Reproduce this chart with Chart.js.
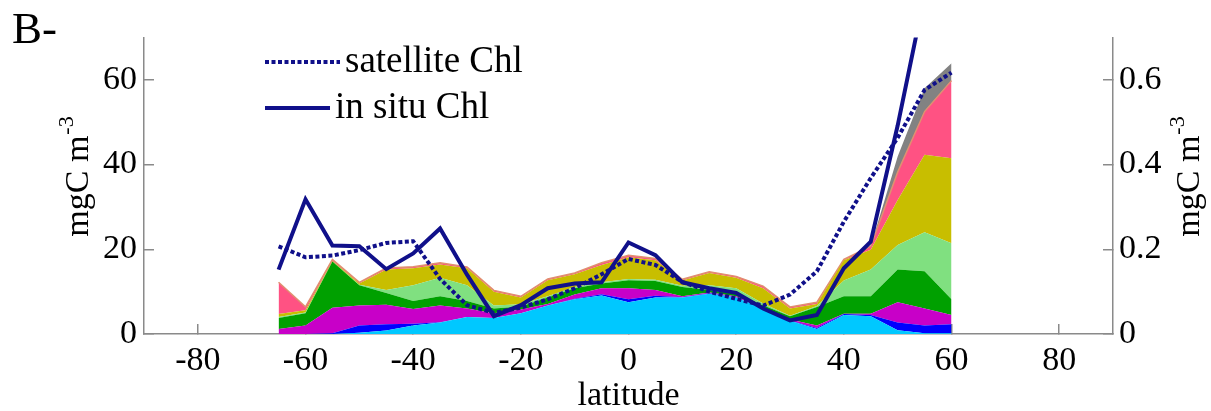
<!doctype html>
<html>

<head>
	<title>Latitude profile B</title>
	<script src="https://cdn.jsdelivr.net/npm/chart.js@4.4.0/dist/chart.umd.min.js"></script>
	<style>
		html, body {
			margin: 0;
			padding: 0;
			background: #fff;
		}
	</style>
</head>

<body>
	<canvas id="chart-area" width="1211" height="411"></canvas>
	<script>
		// latitude bins (deg)
		var latitudes = [-65, -60, -55, -50, -45, -40, -35, -30, -25, -20, -15, -10, -5, 0, 5, 10, 15, 20, 25, 30, 35, 40, 45, 50, 55, 60];

		// stacked groups, mgC m-3 (bottom to top)
		var cyanGroup = [0, 0, 0, 0.3, 0.8, 2.0, 2.7, 4.0, 3.8, 4.9, 6.7, 8.2, 9.1, 7.5, 8.6, 8.6, 9.5, 8.6, 6.0, 3.1, 1.2, 4.5, 4.2, 0.9, 0.2, 0.2];
		var blueGroup = [0, 0, 0.2, 1.7, 1.5, 0.4, 0.1, 0, 0, 0, 0, 0.1, 0.3, 0.7, 0.4, 0.1, 0.1, 0.1, 0.1, 0.1, 0.2, 0.2, 0.3, 1.8, 1.8, 2.1];
		var magentaGroup = [1.2, 2.0, 6.0, 4.7, 4.6, 3.5, 3.9, 2.0, 1.1, 0.9, 0.4, 1.0, 1.4, 2.6, 1.4, 0.2, 0.2, 0.2, 0.2, 0.2, 0.6, 0.1, 0.3, 4.8, 4.0, 2.2];
		var greenGroup = [2.6, 2.9, 10.9, 4.8, 2.8, 1.9, 2.2, 1.8, 1.1, 0.7, 1.5, 1.5, 1.1, 1.9, 2.1, 2.2, 0.6, 0.6, 0.5, 0.8, 4.4, 4.1, 4.1, 7.7, 8.8, 3.7];
		var lightGreenGroup = [0.2, 0.2, 0, 0.1, 0.7, 3.7, 4.4, 3.7, 0.7, 0.5, 0.3, 0.3, 0.3, 0.3, 0.3, 0.3, 1.1, 1.3, 0.4, 0.1, 0.2, 3.7, 6.3, 5.8, 9.2, 13.2];
		var oliveGroup = [0.7, 0.5, 0.1, 0.3, 4.8, 4.0, 3.1, 4.0, 3.3, 1.6, 3.8, 3.0, 4.1, 5.1, 4.6, 1.2, 2.9, 2.5, 3.6, 1.7, 0.5, 4.8, 4.7, 10.6, 18.3, 20.1];
		var pinkGroup = [7.5, 0.8, 0.4, 0.3, 0.4, 0.4, 0.4, 0.3, 0.3, 0.3, 0.3, 0.3, 0.5, 0.5, 0.4, 0.3, 0.3, 0.3, 0.5, 0.4, 0.4, 0.2, 0.8, 6.6, 10.2, 18.3];
		var grayGroup = [0, 0, 0, 0, 0, 0, 0, 0, 0, 0, 0, 0, 0, 0, 0, 0, 0, 0, 0, 0, 0, 0, 0, 3.7, 5.5, 4.1];

		// chlorophyll, right axis
		var satelliteChl = [0.207, 0.181, 0.185, 0.198, 0.215, 0.219, 0.13, 0.068, 0.05, 0.062, 0.082, 0.108, 0.141, 0.177, 0.163, 0.123, 0.10, 0.083, 0.067, 0.093, 0.148, 0.265, 0.368, 0.463, 0.576, 0.617];
		var inSituChl = [0.152, 0.318, 0.209, 0.207, 0.153, 0.19, 0.249, 0.14, 0.042, 0.068, 0.108, 0.119, 0.122, 0.216, 0.186, 0.122, 0.108, 0.097, 0.06, 0.032, 0.045, 0.155, 0.218, 0.492, 0.80, null];

		var xTicks = [-80, -60, -40, -20, 0, 20, 40, 60, 80];
		var leftTicks = [0, 20, 40, 60];
		var rightTicks = [0, 0.2, 0.4, 0.6];

		var navy = '#10108a';
		var serif = '"Liberation Serif", "Times New Roman", serif';
		var axisGray = '#8a8a8a';

		var toPoints = function (values) {
			return latitudes.map(function (lat, i) {
				return { x: lat, y: values[i] };
			});
		};

		var layer = function (label, values, color, fill) {
			return {
				label: label,
				data: toPoints(values),
				yAxisID: 'y',
				backgroundColor: color,
				borderColor: color,
				borderWidth: 0,
				pointRadius: 0,
				fill: fill,
				tension: 0
			};
		};

		var pinkLayer = layer('pink', pinkGroup, '#ff5283', '-1');
		pinkLayer.borderColor = '#e09070';
		pinkLayer.borderWidth = 1.5;

		var fixTicks = function (list) {
			return function (scale) {
				scale.ticks = list.map(function (v) { return { value: v }; });
			};
		};

		var tickFont = { family: serif, size: 34 };

		// axis titles, panel letter and legend
		var drawUnit = function (ctx, x, cy) {
			ctx.save();
			ctx.translate(x, cy);
			ctx.rotate(-Math.PI / 2);
			ctx.font = '34px ' + serif;
			var w1 = ctx.measureText('mgC m').width;
			ctx.font = '22px ' + serif;
			var w2 = ctx.measureText('-3').width;
			var start = -(w1 + w2) / 2;
			ctx.textAlign = 'left';
			ctx.textBaseline = 'alphabetic';
			ctx.font = '34px ' + serif;
			ctx.fillText('mgC m', start, 0);
			ctx.font = '22px ' + serif;
			ctx.fillText('-3', start + w1 + 1, -15);
			ctx.restore();
		};

		var annotations = {
			id: 'annotations',
			afterDraw: function (chart) {
				var ctx = chart.ctx;
				ctx.save();
				ctx.fillStyle = '#000';
				ctx.textBaseline = 'alphabetic';
				ctx.font = '45px ' + serif;
				ctx.fillText('B-', 12, 43);

				ctx.font = '34px ' + serif;
				ctx.textAlign = 'center';
				ctx.fillText('latitude', chart.scales.x.getPixelForValue(0), 405);

				drawUnit(ctx, 88, 177);
				drawUnit(ctx, 1199, 177);

				// legend
				ctx.strokeStyle = navy;
				ctx.lineWidth = 4;
				ctx.setLineDash([4, 2.5]);
				ctx.beginPath();
				ctx.moveTo(265, 62);
				ctx.lineTo(340, 62);
				ctx.stroke();
				ctx.setLineDash([]);
				ctx.beginPath();
				ctx.moveTo(265, 108);
				ctx.lineTo(330, 108);
				ctx.stroke();

				ctx.textAlign = 'left';
				ctx.textBaseline = 'middle';
				ctx.font = '37px ' + serif;
				ctx.fillText('satellite Chl', 345, 62);
				ctx.fillText('in situ Chl', 335, 108);
				ctx.restore();
			}
		};

		var config = {
			type: 'line',
			data: {
				datasets: [{
					label: 'satellite Chl',
					data: toPoints(satelliteChl),
					yAxisID: 'y2',
					borderColor: navy,
					borderWidth: 4,
					borderDash: [4, 2.5],
					pointRadius: 0,
					fill: false,
					tension: 0
				}, {
					label: 'in situ Chl',
					data: toPoints(inSituChl),
					yAxisID: 'y2',
					borderColor: navy,
					borderWidth: 4,
					pointRadius: 0,
					fill: false,
					tension: 0
				},
				layer('cyan', cyanGroup, '#00c8ff', 'origin'),
				layer('blue', blueGroup, '#0000ff', '-1'),
				layer('magenta', magentaGroup, '#c800c8', '-1'),
				layer('green', greenGroup, '#00a000', '-1'),
				layer('light green', lightGreenGroup, '#80e080', '-1'),
				layer('olive', oliveGroup, '#c8be00', '-1'),
				pinkLayer,
				layer('gray', grayGroup, '#828282', '-1')
				]
			},
			options: {
				responsive: false,
				animation: false,
				devicePixelRatio: 1,
				layout: { padding: { top: 16, left: 0, right: 0, bottom: 0 } },
				plugins: {
					legend: { display: false },
					tooltip: { enabled: false },
					title: { display: false }
				},
				scales: {
					x: {
						type: 'linear',
						min: -90,
						max: 90,
						afterBuildTicks: fixTicks(xTicks),
						afterFit: function (scale) { scale.height = 77; },
						ticks: { font: tickFont, color: '#000', padding: 17, maxRotation: 0, autoSkip: false },
						grid: { drawOnChartArea: false, tickLength: -10, color: axisGray, lineWidth: 1.5 },
						border: { display: true, color: axisGray, width: 1.5 }
					},
					y: {
						position: 'left',
						stacked: true,
						min: 0,
						max: 70,
						afterBuildTicks: fixTicks(leftTicks),
						afterFit: function (scale) { scale.width = 144; },
						ticks: { font: tickFont, color: '#000', padding: 17 },
						grid: { drawOnChartArea: false, tickLength: -10, color: axisGray, lineWidth: 1.5 },
						border: { display: true, color: axisGray, width: 1.5 }
					},
					y2: {
						position: 'right',
						stacked: false,
						min: 0,
						max: 0.7,
						afterBuildTicks: fixTicks(rightTicks),
						afterFit: function (scale) { scale.width = 98; },
						ticks: {
							font: tickFont, color: '#000', padding: 16,
							callback: function (v) { return v === 0 ? '0' : v.toFixed(1); }
						},
						grid: { drawOnChartArea: false, tickLength: -10, color: axisGray, lineWidth: 1.5 },
						border: { display: true, color: axisGray, width: 1.5 }
					}
				}
			},
			plugins: [annotations]
		};

		window.onload = function () {
			var ctx = document.getElementById('chart-area').getContext('2d');
			window.myChart = new Chart(ctx, config);
		};
	</script>
</body>

</html>
